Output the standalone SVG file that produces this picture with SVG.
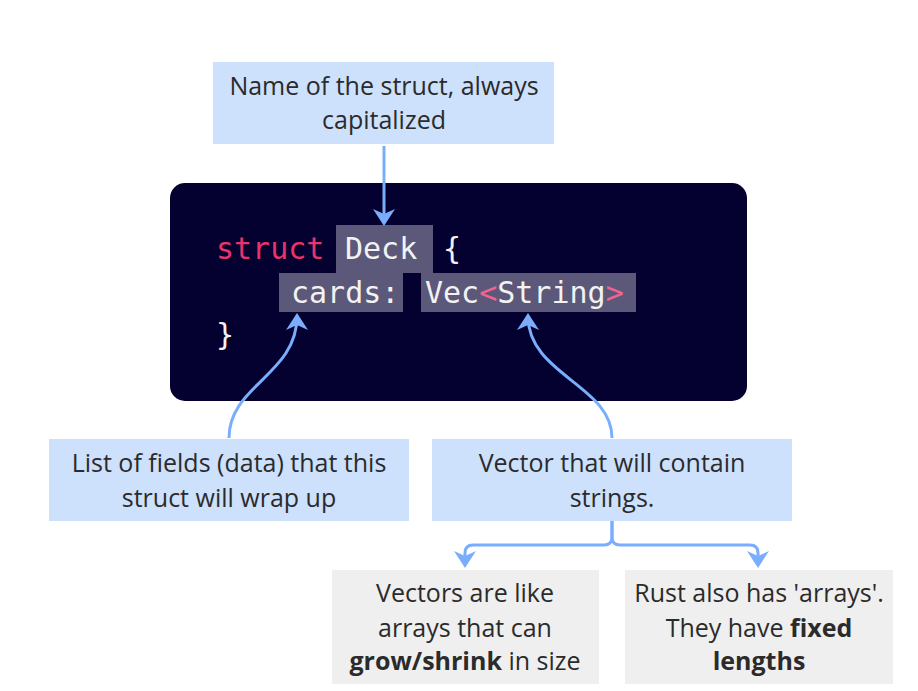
<svg xmlns="http://www.w3.org/2000/svg" width="918" height="691" viewBox="0 0 918 691">
<style>
.note{fill:#cde0fc}
.aside{fill:#efefef}
.t{font-family:"Open Sans","Noto Sans",sans-serif;font-size:25px;fill:#2b2b2b;text-anchor:middle}
.b{font-weight:bold}
.code{font-family:"DejaVu Sans Mono","Liberation Mono",monospace;font-size:30px;fill:#f2f2f2}
.kw{fill:#e8336b}
.br{fill:#f0658e}
.hl{fill:#5c587a}
.conn{fill:none;stroke:#7aaefc;stroke-width:3;marker-end:url(#arr)}
</style>
<defs>
<marker id="arr" markerUnits="userSpaceOnUse" markerWidth="20" markerHeight="24" refX="14" refY="11" orient="auto">
<path d="M0,0 L17,11 L0,22 L5,11 Z" fill="#7aaefc"/>
</marker>
</defs>
<rect width="918" height="691" fill="#ffffff"/>

<g id="code-block">
<rect x="170" y="183" width="577" height="218" rx="15" fill="#04002f"/>
<rect class="hl" x="336" y="225" width="97" height="48"/>
<rect class="hl" x="279" y="273" width="124" height="39"/>
<rect class="hl" x="421" y="273" width="215" height="39"/>
<text class="code" x="216" y="259"><tspan class="kw">struct</tspan></text>
<text class="code" x="345" y="259">Deck</text>
<text class="code" x="443" y="259">{</text>
<text class="code" x="291" y="303">cards:</text>
<text class="code" x="425" y="303">Vec<tspan class="br">&lt;</tspan>String<tspan class="br">&gt;</tspan></text>
<text class="code" x="216" y="345">}</text>
</g>

<g id="name-note">
<rect class="note" x="213" y="62" width="341" height="82"/>
<text class="t" x="384" y="95">Name of the struct, always</text>
<text class="t" x="384" y="129">capitalized</text>
</g>

<g id="fields-note">
<rect class="note" x="49" y="439" width="360" height="82"/>
<text class="t" x="229" y="472">List of fields (data) that this</text>
<text class="t" x="229" y="507">struct will wrap up</text>
</g>

<g id="vector-note">
<rect class="note" x="432" y="439" width="360" height="82"/>
<text class="t" x="612" y="472">Vector that will contain</text>
<text class="t" x="612" y="507">strings.</text>
</g>

<g id="vectors-aside">
<rect class="aside" x="332" y="570" width="267" height="114"/>
<text class="t" x="465" y="602">Vectors are like</text>
<text class="t" x="465" y="637">arrays that can</text>
<text class="t" x="465" y="670"><tspan class="b">grow/shrink</tspan> in size</text>
</g>

<g id="arrays-aside">
<rect class="aside" x="625" y="570" width="268" height="114"/>
<text class="t" x="759" y="602">Rust also has 'arrays'.</text>
<text class="t" x="759" y="637">They have <tspan class="b">fixed</tspan></text>
<text class="t" x="759" y="670" font-weight="bold">lengths</text>
</g>

<g id="connectors">
<path class="conn" d="M384,146 L384,223"/>
<path class="conn" d="M229,438 C229,385 297,375 297,316"/>
<path class="conn" d="M612,438 C612,385 528,375 528,316"/>
<path class="conn" d="M612,521 V537 Q612,545 604,545 H473 Q465,545 465,553 V565"/>
<path class="conn" d="M612,521 V537 Q612,545 620,545 H750 Q758,545 758,553 V565"/>
</g>
</svg>
